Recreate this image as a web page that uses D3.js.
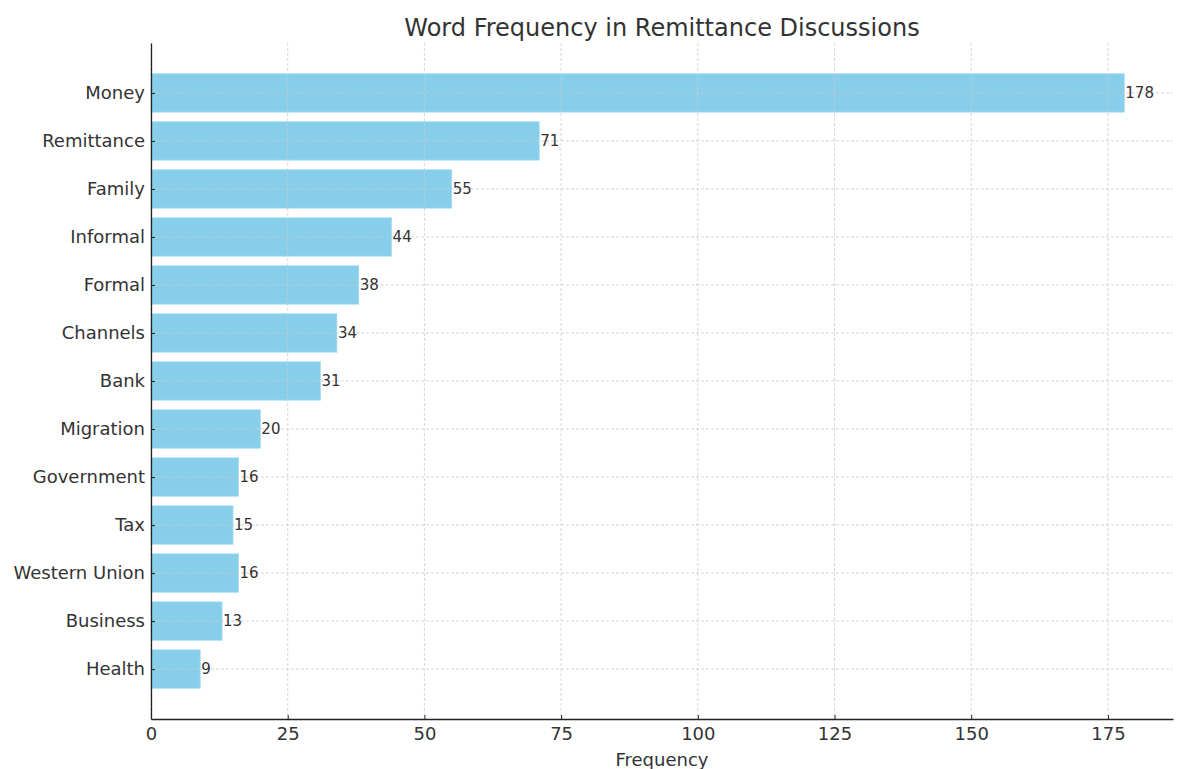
<!DOCTYPE html>
<html>
  <head>
    <meta charset="utf-8">
    <title>Word Frequency in Remittance Discussions</title>
    <style>
      body { margin: 0; background: white; }
      text { font-family: "DejaVu Sans", sans-serif; fill: #333; }
      .grid line { stroke: #ccc; stroke-dasharray: 3,2; stroke-width: 0.8; }
      .axis path, .axis line { stroke: #222; }
    </style>
  </head>
  <body>
    <script src="https://d3js.org/d3.v7.min.js"></script>
    <script>
      const words = ["Money", "Remittance", "Family", "Informal", "Formal", "Channels", "Bank",
        "Migration", "Government", "Tax", "Western Union", "Business", "Health"];
      const counts = [178, 71, 55, 44, 38, 34, 31, 20, 16, 15, 16, 13, 9];
      const xTicks = [0, 25, 50, 75, 100, 125, 150, 175];

      const width = 1181;
      const height = 769;
      const margin = { top: 43, right: 8, bottom: 50, left: 151 };
      const innerW = width - margin.left - margin.right;
      const innerH = height - margin.top - margin.bottom;

      const svg = d3.select("body")
        .append("svg")
        .attr("width", width)
        .attr("height", height);

      const g = svg.append("g")
        .attr("transform", `translate(${margin.left},${margin.top})`);

      // matplotlib-like limits: 5% padding
      const x = d3.scaleLinear()
        .domain([0, d3.max(counts) * 1.05])
        .range([0, innerW]);

      const n = words.length;
      const pad = (n - 1 + 0.8) * 0.05;
      // category position index -> pixel
      const y = d3.scaleLinear()
        .domain([-0.4 - pad, n - 1 + 0.4 + pad])
        .range([0, innerH]);
      const barH = y(0.4) - y(-0.4);

      // bars
      g.selectAll(".bar")
        .data(counts)
        .enter()
        .append("rect")
        .attr("class", "bar")
        .attr("x", 0)
        .attr("y", (d, i) => y(i - 0.4))
        .attr("width", d => x(d))
        .attr("height", barH)
        .attr("fill", "#87ceeb")
        .attr("stroke", "#a9ddf0")
        .attr("stroke-width", 0.8);

      // grid on top of bars
      const grid = g.append("g").attr("class", "grid");
      grid.selectAll(".vg")
        .data(xTicks)
        .enter()
        .append("line")
        .attr("x1", d => x(d)).attr("x2", d => x(d))
        .attr("y1", 0).attr("y2", innerH);
      grid.selectAll(".hg")
        .data(words)
        .enter()
        .append("line")
        .attr("x1", 0).attr("x2", innerW)
        .attr("y1", (d, i) => y(i)).attr("y2", (d, i) => y(i));

      // value labels
      g.selectAll(".val")
        .data(counts)
        .enter()
        .append("text")
        .attr("class", "val")
        .attr("x", d => x(d) + 1)
        .attr("y", (d, i) => y(i))
        .attr("dy", "0.35em")
        .style("font-size", "15px")
        .text(d => d);

      // x axis
      const xAxis = g.append("g")
        .attr("class", "axis")
        .attr("transform", `translate(0,${innerH})`)
        .call(d3.axisBottom(x).tickValues(xTicks).tickSizeInner(-4).tickSizeOuter(0).tickPadding(8));
      xAxis.select(".domain").attr("stroke-width", 1.3);
      xAxis.selectAll("text").style("font-size", "18px").attr("fill", "#333");

      // y axis
      const yAxis = g.append("g")
        .attr("class", "axis")
        .call(d3.axisLeft(y).tickValues(d3.range(n)).tickFormat(i => words[i])
          .tickSizeInner(-4).tickSizeOuter(0).tickPadding(6));
      yAxis.select(".domain").attr("stroke-width", 1.3);
      yAxis.selectAll("text").style("font-size", "18px").attr("fill", "#333");

      // title and axis label
      svg.append("text")
        .attr("x", margin.left + innerW / 2)
        .attr("y", 36)
        .attr("text-anchor", "middle")
        .style("font-size", "24px")
        .text("Word Frequency in Remittance Discussions");

      svg.append("text")
        .attr("x", margin.left + innerW / 2)
        .attr("y", 766)
        .attr("text-anchor", "middle")
        .style("font-size", "18px")
        .text("Frequency");
    </script>
  </body>
</html>
